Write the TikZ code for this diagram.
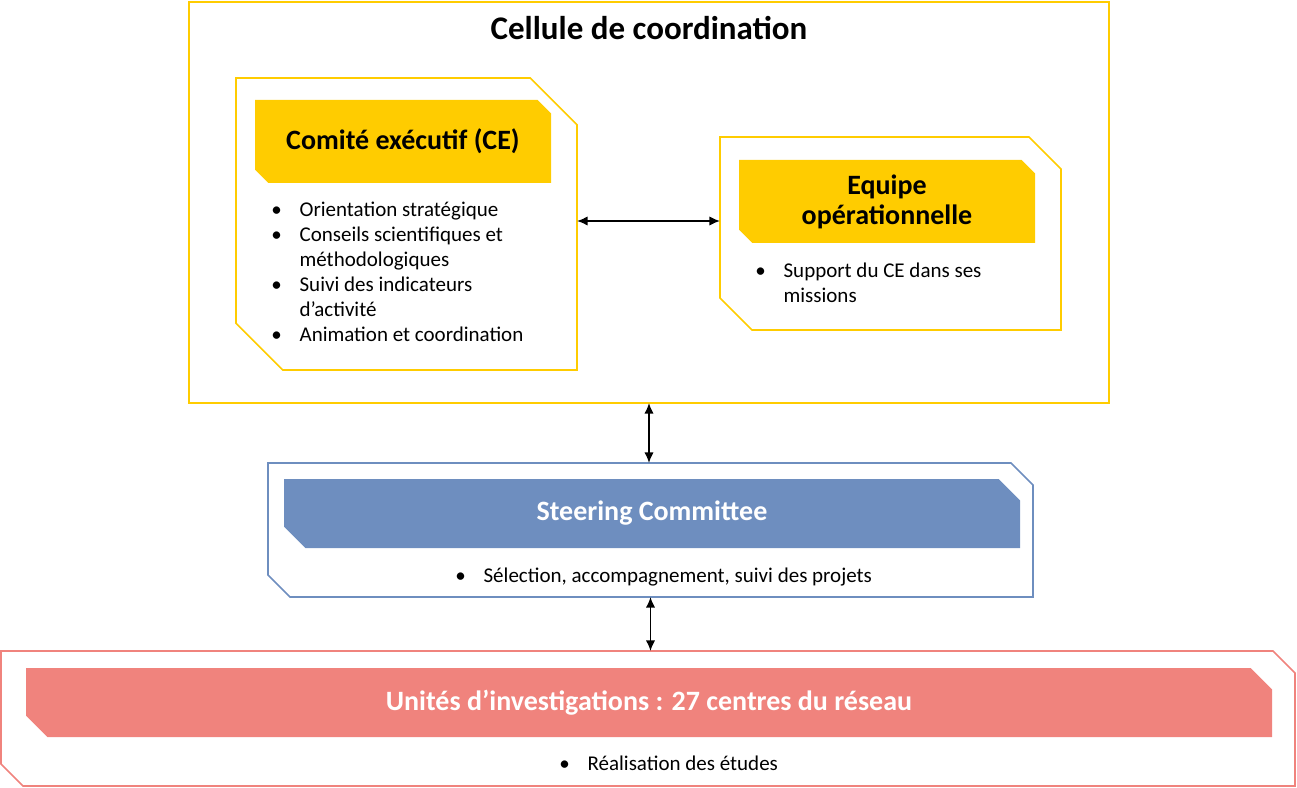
\documentclass[tikz,border=0pt]{standalone}
\usepackage{fontspec}
\setmainfont{Carlito}
\usetikzlibrary{arrows.meta,calc}
\definecolor{Gold}{RGB}{255,204,0}
\definecolor{SteelBlue}{RGB}{110,142,191}
\definecolor{Salmon}{RGB}{240,131,125}
\pgfdeclarelayer{background}
\pgfsetlayers{background,main}
\tikzset{
  frame/.style={inner sep=0pt,outer sep=0pt},
  headtext/.style={inner sep=0pt,outer sep=0pt,align=center,
    font=\fontsize{21}{22.5}\selectfont\bfseries},
  bullets/.style={inner sep=0pt,anchor=base west,
    font=\fontsize{15.75}{18.75}\selectfont},
  link/.style={{Latex[length=8pt,width=7pt]}-{Latex[length=8pt,width=7pt]},line width=1.1pt}
}
% snipped corners: top right and bottom left
\newcommand{\snipframe}[3]{%
  \path[#3] (#1.north west) -- ([xshift=-#2]#1.north east)
    -- ([yshift=-#2]#1.north east) -- (#1.south east)
    -- ([xshift=#2]#1.south west) -- ([yshift=#2]#1.south west) -- cycle;}
\newcommand{\bul}{\textbullet}

\begin{document}
\begin{tikzpicture}[x=0.75pt,y=-0.75pt]
  \useasboundingbox (0,0) rectangle (1297,788);

  % cellule de coordination
  \node[frame,draw=Gold,line width=1.3pt,minimum width=690pt,minimum height=300.75pt] (cellule) at (649,202.5) {};
  \node[font=\fontsize{24.75}{28}\selectfont\bfseries] (title) at (649,28) {Cellule de coordination};

  \node[frame,minimum width=255.75pt,minimum height=219pt] (ce) at (406.5,224) {};
  \node[headtext,minimum width=222pt,minimum height=62.25pt] (cehead) at (403,141.5) {Comité exécutif (CE)};
  \node[bullets] (celist) at (271,217) {%
    \begin{tabular}[t]{@{}p{21.25pt}@{}l@{}}
      \bul & Orientation stratégique\\
      \bul & Conseils scientifiques et\\
           & méthodologiques\\
      \bul & Suivi des indicateurs\\
           & d’activité\\
      \bul & Animation et coordination
    \end{tabular}};

  \node[frame,minimum width=255.75pt,minimum height=144.75pt] (eq) at (890.5,233.5) {};
  \node[headtext,minimum width=222pt,minimum height=62.25pt] (eqhead) at (887,201.5) {Equipe\\opérationnelle};
  \node[bullets] (eqlist) at (755,277) {%
    \begin{tabular}[t]{@{}p{21.25pt}@{}l@{}}
      \bul & Support du CE dans ses\\
           & missions
    \end{tabular}};

  % steering committee
  \node[frame,minimum width=573.75pt,minimum height=100.5pt] (steer) at (650.5,530) {};
  \node[headtext,text=white,minimum width=552pt,minimum height=51.75pt] (steerhead) at (652,513.5) {Steering Committee};
  \node[bullets] (steerlist) at (455,582) {%
    \begin{tabular}[t]{@{}p{21.25pt}@{}l@{}}
      \bul & Sélection, accompagnement, suivi des projets
    \end{tabular}};

  % unites d'investigations
  \node[frame,minimum width=970.5pt,minimum height=101.25pt] (unites) at (648,718.5) {};
  \node[headtext,text=white,minimum width=934.5pt,minimum height=51.75pt] (uniteshead) at (649,702.5) {Unités d’investigations : 27 centres du réseau};
  \node[bullets] (uniteslist) at (559,770) {%
    \begin{tabular}[t]{@{}p{21.25pt}@{}l@{}}
      \bul & Réalisation des études
    \end{tabular}};

  \begin{pgfonlayer}{background}
    \snipframe{ce}{35pt}{draw=Gold,line width=1.2pt}
    \snipframe{cehead}{10pt}{fill=Gold}
    \snipframe{eq}{24pt}{draw=Gold,line width=1.2pt}
    \snipframe{eqhead}{10pt}{fill=Gold}
    \snipframe{steer}{16.5pt}{draw=SteelBlue,line width=1.2pt}
    \snipframe{steerhead}{16pt}{fill=SteelBlue}
    \snipframe{unites}{16.5pt}{draw=Salmon,line width=1.2pt}
    \snipframe{uniteshead}{16pt}{fill=Salmon}
  \end{pgfonlayer}

  \draw[link] ([yshift=2.25pt]ce.east) -- ([yshift=2.25pt]ce.east -| eq.west);
  \draw[link] (cellule.south) -- (cellule.south |- steer.north);
  \draw[link] (steer.south) -- (steer.south |- unites.north);
\end{tikzpicture}
\end{document}
